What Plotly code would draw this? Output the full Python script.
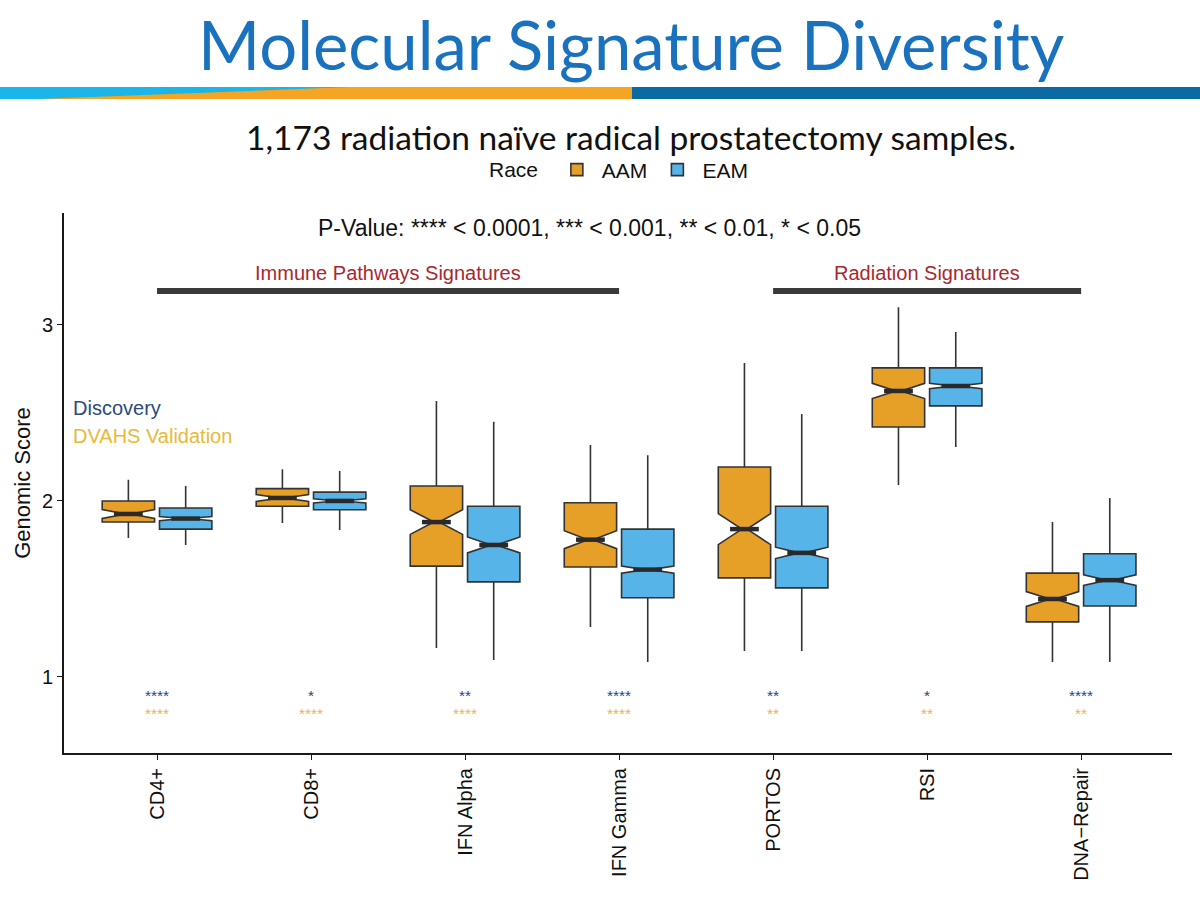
import plotly.graph_objects as go

categories = ["CD4+", "CD8+", "IFN Alpha", "IFN Gamma", "PORTOS", "RSI", "DNA\u2212Repair"]

aam_lower = [1.79, 1.875, 1.165, 1.284, 1.148, 2.09, 1.085]
aam_q1 = [1.88, 1.97, 1.63, 1.625, 1.563, 2.42, 1.313]
aam_median = [1.926, 2.017, 1.88, 1.78, 1.84, 2.625, 1.443]
aam_q3 = [2.0, 2.07, 2.085, 1.99, 2.193, 2.756, 1.59]
aam_upper = [2.12, 2.18, 2.568, 2.318, 2.784, 3.10, 1.88]
aam_notch = [0.025, 0.02, 0.07, 0.051, 0.088, 0.043, 0.042]

eam_lower = [1.75, 1.835, 1.097, 1.085, 1.148, 2.307, 1.085]
eam_q1 = [1.84, 1.95, 1.54, 1.45, 1.506, 2.54, 1.403]
eam_median = [1.90, 2.0, 1.75, 1.61, 1.705, 2.653, 1.55]
eam_q3 = [1.96, 2.05, 1.97, 1.84, 1.97, 2.756, 1.70]
eam_upper = [2.085, 2.17, 2.45, 2.26, 2.494, 2.96, 2.017]
eam_notch = [0.012, 0.012, 0.045, 0.02, 0.032, 0.015, 0.03]

discovery_stars = ["****", "*", "**", "****", "**", "*", "****"]
validation_stars = ["****", "****", "****", "****", "**", "**", "**"]

AAM_COLOR = "#E69F27"
EAM_COLOR = "#56B4E9"
LINE = "#333333"
OFFSET = 0.186
BOXW = 0.34
NOTCHW = 0.45
FONT = "Liberation Sans"

# page geometry helpers (plot area: x 64..1172, y 213..753 of a 1200x910 page)
L, R, T, B = 64, 28, 213, 157
PW, PH = 1200 - L - R, 910 - T - B


def px(x):
    return (x - L) / PW


def py(y):
    return (910 - B - y) / PH


fig = go.Figure()

idx = list(range(len(categories)))
for name, color, sign, lo, q1, med, q3, up, nt in [
    ("AAM", AAM_COLOR, -1, aam_lower, aam_q1, aam_median, aam_q3, aam_upper, aam_notch),
    ("EAM", EAM_COLOR, 1, eam_lower, eam_q1, eam_median, eam_q3, eam_upper, eam_notch),
]:
    pos = [i + sign * OFFSET for i in idx]
    fig.add_trace(go.Box(
        name=name, x=pos, q1=q1, median=med, q3=q3,
        lowerfence=lo, upperfence=up, notchspan=nt, notched=True,
        notchwidth=NOTCHW, width=BOXW, whiskerwidth=0,
        fillcolor=color, line=dict(color=LINE, width=1.6),
        boxpoints=False, hoverinfo="skip",
    ))
    # thick median segment
    xs, ys = [], []
    hw = BOXW / 2 * (1 - NOTCHW)
    for p, m in zip(pos, med):
        xs += [p - hw, p + hw, None]
        ys += [m, m, None]
    fig.add_trace(go.Scatter(x=xs, y=ys, mode="lines",
                             line=dict(color="#2a2a2a", width=4.5),
                             showlegend=False, hoverinfo="skip"))

# significance stars
for i in idx:
    fig.add_annotation(x=i, y=0.895, text=discovery_stars[i], showarrow=False, yanchor="middle",
                       font=dict(family=FONT, size=15.5, color="#2c4572"))
    fig.add_annotation(x=i, y=0.79, text=validation_stars[i], showarrow=False, yanchor="middle",
                       font=dict(family=FONT, size=15.5, color="#F0B82C"))

# group bars
fig.add_shape(type="line", x0=0, x1=3, y0=3.193, y1=3.193, xref="x", yref="y",
              line=dict(color="#3a3a3a", width=6))
fig.add_shape(type="line", x0=4, x1=6, y0=3.193, y1=3.193, xref="x", yref="y",
              line=dict(color="#3a3a3a", width=6))
fig.add_annotation(x=1.5, y=3.295, text="Immune Pathways Signatures", showarrow=False,
                   yanchor="middle", font=dict(family=FONT, size=20, color="#A8282E"))
fig.add_annotation(x=5, y=3.295, text="Radiation Signatures", showarrow=False,
                   yanchor="middle", font=dict(family=FONT, size=20, color="#A8282E"))
fig.add_annotation(x=2.81, y=3.55,
                   text="P-Value: **** < 0.0001, *** < 0.001, ** < 0.01, * < 0.05",
                   showarrow=False, yanchor="middle",
                   font=dict(family=FONT, size=23, color="#111111"))
fig.add_annotation(x=-0.56, y=2.53, text="Discovery", showarrow=False, xanchor="left",
                   yanchor="middle", font=dict(family=FONT, size=20, color="#2c4a7c"))
fig.add_annotation(x=-0.56, y=2.37, text="DVAHS Validation", showarrow=False, xanchor="left",
                   yanchor="middle", font=dict(family=FONT, size=20, color="#E9B93A"))

# header stripe
fig.add_shape(type="rect", xref="paper", yref="paper", x0=px(0), x1=px(632),
              y0=py(99), y1=py(87), fillcolor="#F6A523", line=dict(width=0), layer="below")
fig.add_shape(type="rect", xref="paper", yref="paper", x0=px(632), x1=px(1200),
              y0=py(99), y1=py(87), fillcolor="#0B6AA3", line=dict(width=0), layer="below")
fig.add_shape(type="path", xref="paper", yref="paper",
              path=f"M {px(0)},{py(87)} L {px(350)},{py(87)} L {px(40)},{py(99)} L {px(0)},{py(99)} Z",
              fillcolor="#1BB6E9", line=dict(width=0), layer="below")

# title and subtitle
fig.add_annotation(xref="paper", yref="paper", x=px(631), y=py(44), yanchor="middle",
                   text="Molecular Signature Diversity", showarrow=False,
                   font=dict(family="Lato", size=67, color="#1A72BE"))
fig.add_annotation(xref="paper", yref="paper", x=px(631), y=py(137), yanchor="middle",
                   text="1,173 radiation na\u00efve radical prostatectomy samples.", showarrow=False,
                   font=dict(family="Lato", size=33.5, color="#111111"))

fig.update_layout(
    width=1200, height=910,
    margin=dict(l=L, r=R, t=T, b=B),
    paper_bgcolor="white", plot_bgcolor="white",
    boxmode="overlay",
    showlegend=True,
    legend=dict(orientation="h", x=px(620), xanchor="center", y=py(170), yanchor="middle",
                title=dict(text="Race ", font=dict(family=FONT, size=21, color="#111")),
                font=dict(family=FONT, size=21, color="#111"),
                itemwidth=40,
                bgcolor="rgba(0,0,0,0)"),
    xaxis=dict(range=[-0.604, 6.59], tickmode="array", tickvals=idx, ticktext=categories,
               tickangle=-90, showline=True, linecolor="#1a1a1a", linewidth=2,
               ticks="outside", ticklen=5, tickcolor="#1a1a1a", showgrid=False, zeroline=False,
               tickfont=dict(family=FONT, size=20, color="#111")),
    yaxis=dict(range=[0.568, 3.636], tickvals=[1, 2, 3], showline=True, linecolor="#1a1a1a",
               linewidth=2, ticks="outside", ticklen=5, tickcolor="#1a1a1a", showgrid=False,
               zeroline=False, tickfont=dict(family=FONT, size=20, color="#111"),
               title=dict(text="Genomic Score", standoff=5,
                          font=dict(family=FONT, size=22, color="#111"))),
)

fig.write_html("out.html")
